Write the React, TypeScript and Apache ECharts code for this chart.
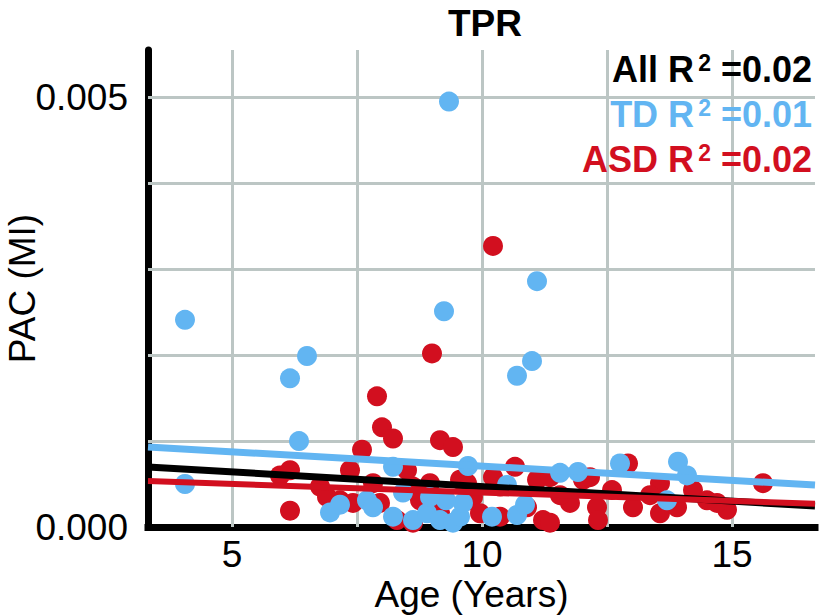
import React, { useEffect, useRef } from "react";
import * as echarts from "echarts";

const FONT = "'Liberation Sans', Arial, Helvetica, sans-serif";
const BLUE = "#62b5f2";
const RED = "#d20f1f";
const GRID = "#bcc6c4";

const X_MIN = 3.32;
const X_MAX = 16.66;
const Y_MIN = 0;
const Y_MAX = 0.00555;

const xTickLabels = [5, 10, 15];
const yTickLabels = [0, 0.005];
const xGridLines = [5, 7.5, 10, 12.5, 15];
const yGridLines = [0.001, 0.002, 0.003, 0.004, 0.005];

const titleText = "TPR";
const xName = "Age (Years)";
const yName = "PAC (MI)";

const tdPoints: [number, number][] = [
  [9.34, 0.00495], [4.06, 0.00241], [9.24, 0.00251], [11.1, 0.00286], [6.5, 0.00199],
  [6.16, 0.00173], [11.0, 0.00193], [10.7, 0.00176], [6.34, 0.001], [4.06, 0.0005],
  [9.72, 0.00071], [8.22, 0.0007], [6.96, 0.00017], [7.16, 0.00026], [7.7, 0.00031],
  [8.22, 0.00012], [8.62, 0.00008], [8.9, 0.00016], [9.16, 0.00008], [9.42, 0.00005],
  [9.56, 0.00012], [7.82, 0.00023], [8.42, 0.0004], [10.5, 0.00049], [10.2, 0.00012],
  [10.7, 0.00014], [11.56, 0.00063], [11.92, 0.00064], [12.76, 0.00074], [13.92, 0.00076],
  [14.1, 0.0006], [13.7, 0.00031], [9.62, 0.00028], [10.86, 0.00026], [9.28, 0.00031],
  [8.96, 0.00035],
];

const asdPoints: [number, number][] = [
  [10.22, 0.00327], [9.0, 0.00202], [7.9, 0.00152], [8.0, 0.00116], [8.22, 0.00103],
  [9.16, 0.00101], [9.42, 0.00093], [7.6, 0.0009], [5.96, 0.0006], [6.16, 0.00066],
  [7.36, 0.00066], [6.16, 0.00019], [6.76, 0.00047], [6.9, 0.00035], [7.16, 0.00031],
  [7.42, 0.00028], [7.82, 0.00051], [7.96, 0.00028], [8.5, 0.00066], [8.62, 0.00047],
  [8.96, 0.00051], [9.02, 0.00023], [8.3, 0.00008], [8.62, 0.00005], [9.16, 0.00016],
  [9.56, 0.00055], [9.76, 0.00031], [10.66, 0.0007], [10.22, 0.00058], [10.36, 0.00047],
  [11.1, 0.00055], [11.36, 0.00058], [11.76, 0.00028], [12.02, 0.00055], [12.16, 0.00058],
  [12.3, 0.00023], [12.92, 0.00074], [13.02, 0.00023], [13.56, 0.00051], [13.56, 0.00016],
  [14.22, 0.00043], [14.5, 0.00031], [14.9, 0.0002], [15.62, 0.00051], [11.22, 0.00008],
  [11.36, 0.00005], [10.36, 0.00012], [10.9, 0.00023], [9.82, 0.00035], [9.96, 0.00016],
  [9.7, 0.00051], [13.9, 0.00023], [14.7, 0.00028], [12.32, 0.00008], [8.76, 0.00031],
  [11.56, 0.00037], [12.6, 0.00043], [13.36, 0.00037],
];

const allFit: [number, number][] = [[3.32, 0.000698], [16.66, 0.000244]];
const tdFit: [number, number][] = [[3.32, 0.00093], [16.66, 0.000488]];
const asdFit: [number, number][] = [[3.32, 0.000535], [16.66, 0.00027]];

const legendLabels = ["All", "TD", "ASD"];
const legendR2 = ["0.02", "0.01", "0.02"];
const legendColors = ["#000000", BLUE, RED];

export default function App() {
  const ref = useRef<HTMLDivElement>(null);
  useEffect(() => {
    document.body.style.margin = "0";
    if (!ref.current) return;
    const chart = echarts.init(ref.current, undefined, { renderer: "svg" });
    const gridLineData: any[] = [
      ...xGridLines.map((v) => [{ coord: [v, Y_MIN] }, { coord: [v, Y_MAX] }]),
      ...yGridLines.map((v) => [{ coord: [X_MIN, v] }, { coord: [X_MAX, v] }]),
    ];
    const option: any = {
      animation: false,
      backgroundColor: "#ffffff",
      title: {
        text: titleText,
        left: 448,
        top: 5,
        padding: 0,
        textStyle: { fontSize: 37, fontWeight: "bold", color: "#000", fontFamily: FONT },
      },
      grid: { left: 148, right: 5, top: 50, bottom: 89, containLabel: false, outerBoundsMode: "none" },
      xAxis: {
        type: "value",
        min: X_MIN,
        max: X_MAX,
        name: xName,
        nameLocation: "middle",
        nameGap: 49,
        nameMoveOverlap: false,
        nameTextStyle: { fontSize: 37, color: "#000", fontFamily: FONT, padding: [0, 20, 0, 0] },
        axisLine: { show: true, onZero: false, lineStyle: { color: "#000", width: 7, cap: "square" } },
        axisTick: { show: false },
        splitLine: { show: false },
        axisLabel: {
          customValues: xTickLabels,
          fontSize: 37,
          color: "#000",
          fontFamily: FONT,
          margin: 9,
          formatter: (v: number) => String(v),
        },
      },
      yAxis: {
        type: "value",
        min: Y_MIN,
        max: Y_MAX,
        name: yName,
        nameLocation: "middle",
        nameGap: 107,
        nameMoveOverlap: false,
        nameTextStyle: { fontSize: 37, color: "#000", fontFamily: FONT },
        axisLine: { show: true, onZero: false, lineStyle: { color: "#000", width: 7 } },
        axisTick: { show: false },
        splitLine: { show: false },
        axisLabel: {
          customValues: yTickLabels,
          fontSize: 37,
          color: "#000",
          fontFamily: FONT,
          margin: 20,
          formatter: (v: number) => v.toFixed(3),
        },
      },
      graphic: legendLabels.map((lab, i) => ({
        type: "text",
        x: 812,
        y: 69 + i * 45,
        z: 100,
        style: {
          text: `{m|${lab} R}{s|2}{m| =${legendR2[i]}}`,
          align: "right",
          verticalAlign: "middle",
          rich: {
            m: { fontSize: 36, fontWeight: "bold", fontFamily: FONT, fill: legendColors[i] },
            s: { fontSize: 23, fontWeight: "bold", fontFamily: FONT, fill: legendColors[i], verticalAlign: "top", padding: [0, 0, 0, 4] },
          },
        },
      })),
      series: [
        {
          type: "scatter",
          data: [],
          z: 1,
          silent: true,
          markLine: {
            z: 1,
            silent: true,
            symbol: ["none", "none"],
            precision: 10,
            label: { show: false },
            lineStyle: { color: GRID, width: 3, type: "solid" },
            emphasis: { disabled: true },
            data: gridLineData,
          },
        },
        {
          name: "ASD",
          type: "scatter",
          data: asdPoints,
          symbolSize: 20,
          z: 2,
          itemStyle: { color: RED, opacity: 1 },
        },
        {
          name: "TD",
          type: "scatter",
          data: tdPoints,
          symbolSize: 20,
          z: 3,
          itemStyle: { color: BLUE, opacity: 1 },
        },
        {
          name: "TD fit",
          type: "line",
          data: tdFit,
          showSymbol: false,
          z: 4,
          lineStyle: { color: BLUE, width: 7 },
        },
        {
          name: "All fit",
          type: "line",
          data: allFit,
          showSymbol: false,
          z: 4,
          lineStyle: { color: "#000", width: 7 },
        },
        {
          name: "ASD fit",
          type: "line",
          data: asdFit,
          showSymbol: false,
          z: 4,
          lineStyle: { color: RED, width: 6 },
        },
      ],
    };
    chart.setOption(option);
    return () => chart.dispose();
  }, []);
  return <div ref={ref} style={{ width: 820, height: 616 }} />;
}
